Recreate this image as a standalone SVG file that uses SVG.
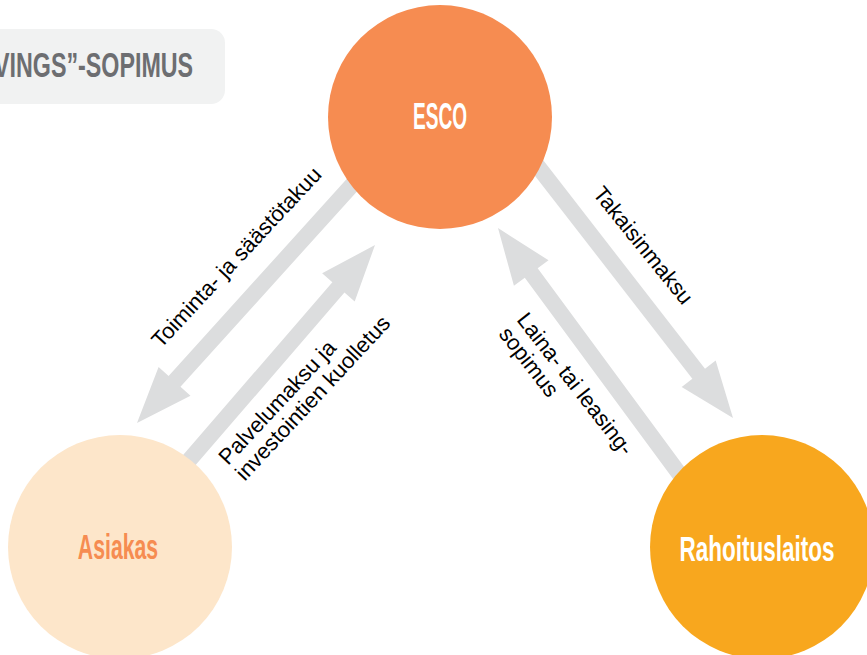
<svg xmlns="http://www.w3.org/2000/svg" width="867" height="655" viewBox="0 0 867 655">
<style>
.arrow{fill:#dcddde;}
.lbl{font-family:"Liberation Sans",Arial,sans-serif;font-size:22px;fill:#000;}
.node{font-family:"Liberation Sans",Arial,sans-serif;font-weight:bold;font-size:36px;text-anchor:middle;}
.title{font-family:"Liberation Sans",Arial,sans-serif;font-weight:bold;font-size:35px;fill:#6d6e71;}
</style>
<rect width="867" height="655" fill="#ffffff"/>
<g id="title">
<rect x="-20" y="29" width="245" height="75" rx="14" ry="14" fill="#f1f2f2"/>
<text class="title" transform="translate(-6,77) scale(0.665,1)">VINGS”-SOPIMUS</text>
</g>
<g id="connectors">
<path class="arrow" transform="translate(137,423) rotate(132.1)" d="M0,0 L-56,-21.5 L-56,-8 L-360,-8 L-360,8 L-56,8 L-56,21.5 Z"/>
<path class="arrow" transform="translate(375,245) rotate(-49.2)" d="M0,0 L-56,-21.5 L-56,-8 L-330,-8 L-330,8 L-56,8 L-56,21.5 Z"/>
<path class="arrow" transform="translate(733,418) rotate(52.2)" d="M0,0 L-56,-21.5 L-56,-8 L-330,-8 L-330,8 L-56,8 L-56,21.5 Z"/>
<path class="arrow" transform="translate(498,228) rotate(-126.4)" d="M0,0 L-56,-21.5 L-56,-8 L-320,-8 L-320,8 L-56,8 L-56,21.5 Z"/>
<text class="lbl" transform="translate(161,349) rotate(-47)">Toiminta- ja säästötakuu</text>
<text class="lbl" transform="translate(228,466) rotate(-47)"><tspan x="0" y="0">Palvelumaksu ja</tspan><tspan x="0" y="23">investointien kuolletus</tspan></text>
<text class="lbl" transform="translate(592,194) rotate(51)">Takaisinmaksu</text>
<text class="lbl" transform="translate(516,320) rotate(52)"><tspan x="0" y="0">Laina- tai leasing-</tspan><tspan x="0" y="23">sopimus</tspan></text>
</g>
<g id="node-esco">
<circle cx="440" cy="117" r="112" fill="#f68c51"/>
<text class="node" transform="translate(440,129) scale(0.53,1)" fill="#ffffff">ESCO</text>
</g>
<g id="node-asiakas">
<circle cx="120" cy="547" r="112" fill="#fde6ca"/>
<text class="node" transform="translate(118,559) scale(0.59,1)" fill="#f68c51">Asiakas</text>
</g>
<g id="node-rahoituslaitos">
<circle cx="762" cy="547" r="112" fill="#f8a71e"/>
<text class="node" transform="translate(757,561) scale(0.625,1)" fill="#ffffff">Rahoituslaitos</text>
</g>
</svg>
